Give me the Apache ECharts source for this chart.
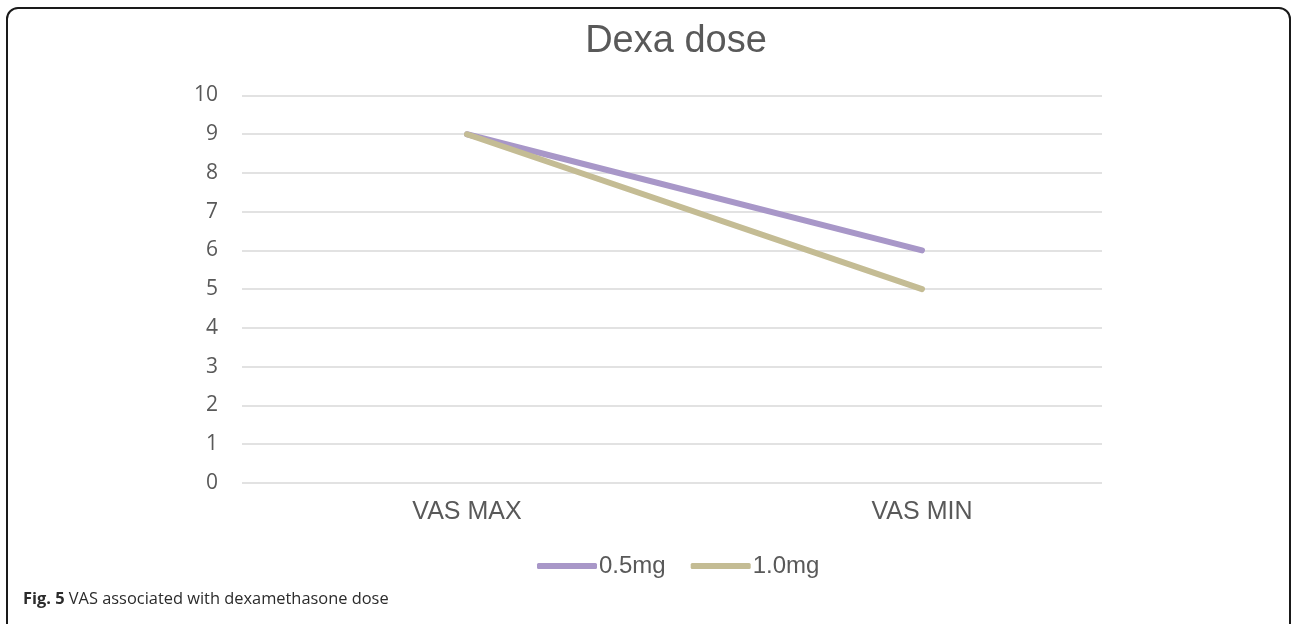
<!DOCTYPE html>
<html>
<head>
<meta charset="utf-8">
<script src="https://cdn.jsdelivr.net/npm/echarts@6/dist/echarts.min.js"></script>
<style>
  html, body { margin: 0; padding: 0; background: #fff; }
  #frame { position: absolute; left: 6px; top: 7px; width: 1285px; height: 640px; border: 2px solid #1a1a1a; border-radius: 12px; box-sizing: border-box; }
  #chart { position: absolute; left: 0; top: 0; width: 1292px; height: 624px; }
</style>
</head>
<body>
<div id="frame"></div>
<div id="chart"></div>
<script>
const titleText = 'Dexa dose';
const categories = ['VAS MAX', 'VAS MIN'];
const seriesNames = ['0.5mg', '1.0mg'];
const values05 = [9, 6];
const values10 = [9, 5];
const yTicks = [0, 1, 2, 3, 4, 5, 6, 7, 8, 9, 10];
const captionBold = 'Fig. 5';
const captionRest = ' VAS associated with dexamethasone dose';

const colors = ['#a897c8', '#c4bc94'];
const chart = echarts.init(document.getElementById('chart'), null, { renderer: 'canvas' });

const option = {
  animation: false,
  backgroundColor: 'transparent',
  color: colors,
  title: [
    {
      text: titleText,
      left: 676, top: 23, padding: 0,
      textAlign: 'center',
      textStyle: { fontFamily: 'Liberation Sans, Arial, sans-serif', fontSize: 38, fontWeight: 'normal', color: '#595959' }
    },
    {
      text: '{b|' + captionBold + '}{r|' + captionRest + '}',
      left: 23, top: 591, padding: 0,
      textStyle: {
        fontWeight: 'normal',
        rich: {
          b: { fontFamily: 'Open Sans, sans-serif', fontSize: 16.4, fontWeight: 'bold', color: '#2b2b2b' },
          r: { fontFamily: 'Open Sans, sans-serif', fontSize: 16.4, fontWeight: 'normal', color: '#2b2b2b' }
        }
      }
    }
  ],
  legend: {
    data: seriesNames,
    top: 549,
    left: 532,
    icon: 'roundRect',
    itemWidth: 60, itemHeight: 6, itemGap: 25,
    textStyle: { fontFamily: 'Liberation Sans, Arial, sans-serif', fontSize: 24, color: '#595959', padding: [0, 0, 0, -3] }
  },
  grid: [
    { left: 242, right: 190, top: 95.5, bottom: 141.3 },
    { left: 239.5, width: 910, top: 95.5, bottom: 141.3 }
  ],
  xAxis: [
    { gridIndex: 0, type: 'category', data: categories, show: false },
    {
      gridIndex: 1, type: 'category', data: categories, boundaryGap: true,
      axisLine: { show: false }, axisTick: { show: false }, splitLine: { show: false },
      axisLabel: { margin: 17, fontFamily: 'Liberation Sans, Arial, sans-serif', fontSize: 25, color: '#595959' }
    }
  ],
  yAxis: [
    {
      gridIndex: 0, type: 'value', min: yTicks[0], max: yTicks[yTicks.length - 1], interval: 1,
      axisLine: { show: false }, axisTick: { show: false },
      splitLine: { lineStyle: { color: '#d9d9d9', width: 1.5 } },
      axisLabel: { margin: 24, fontFamily: 'Open Sans, sans-serif', fontSize: 21, color: '#595959' }
    },
    { gridIndex: 1, type: 'value', min: yTicks[0], max: yTicks[yTicks.length - 1], show: false }
  ],
  series: [
    {
      name: seriesNames[0], type: 'line', xAxisIndex: 1, yAxisIndex: 1, data: values05,
      showSymbol: false, symbol: 'none',
      lineStyle: { width: 6, color: colors[0], cap: 'round' }
    },
    {
      name: seriesNames[1], type: 'line', xAxisIndex: 1, yAxisIndex: 1, data: values10,
      showSymbol: false, symbol: 'none',
      lineStyle: { width: 6, color: colors[1], cap: 'round' }
    }
  ]
};
chart.setOption(option);
</script>
</body>
</html>
